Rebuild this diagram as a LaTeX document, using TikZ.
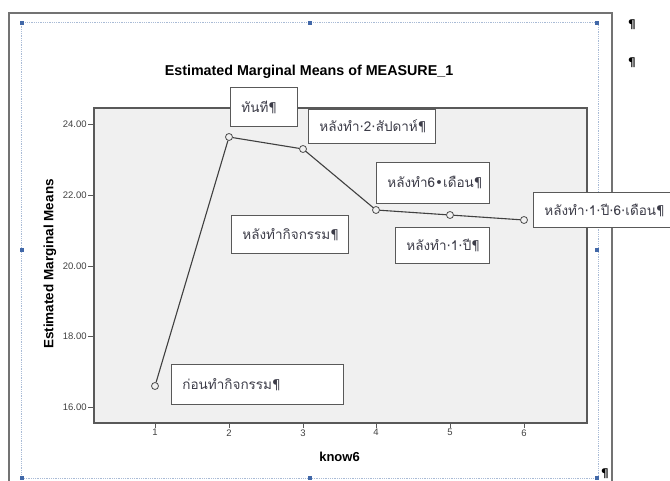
\documentclass[tikz,border=0pt]{standalone}
\usepackage{fontspec}
\setmainfont{Liberation Sans}
\newfontfamily\thaifont[Script=Thai]{Loma}
\newfontfamily\markfont{DejaVu Sans}
\usetikzlibrary{positioning, calc}
\definecolor{plotbg}{HTML}{F0F0F0}
\definecolor{selblue}{HTML}{A9BBD6}
\definecolor{handleblue}{HTML}{4168A8}
\definecolor{boxtext}{HTML}{3C3C48}
\newcommand{\pilc}{{\markfont ¶}}
\newcommand{\mdot}{{\markfont ·}}
\tikzset{
	textbox/.style={draw=black!65, fill=white, line width=0.9pt, inner xsep=11pt, inner ysep=0pt,
		anchor=north west, align=left, text=boxtext, font=\thaifont\fontsize{13.5}{15}\selectfont},
	handle/.style={fill=handleblue, inner sep=0pt, minimum size=4pt},
	datapt/.style={circle, draw=black!70, line width=0.8pt, inner sep=0pt, minimum size=7pt},
	tick label/.style={text=black!75, font=\fontsize{9.5}{11}\selectfont}
}
\begin{document}
\begin{tikzpicture}[x=1pt, y=-1pt]
	\useasboundingbox (0,0) rectangle (670,481);
	\draw[black!55, line width=1.2pt] (9,490) -- (9,13) -- (612,13) -- (612,490);
	\draw[selblue, densely dotted, line width=0.8pt] (21,22) rectangle (598,478);
	\foreach \hx/\hy in {22/23, 310/23, 597/23, 22/250, 597/250, 22/478, 310/478, 597/478}
		\node[handle] at (\hx,\hy) {};
	
	\node[font=\bfseries\fontsize{14.3}{16}\selectfont] (title) at (309,72) {Estimated Marginal Means of MEASURE\_1};
	
	\draw[fill=plotbg, draw=black!65, line width=1.3pt] (94,108) rectangle (587,423);
	\foreach \v/\ty in {24.00/124, 22.00/195, 20.00/266, 18.00/336, 16.00/407}
		\draw[black!65, line width=0.8pt] (94,\ty) -- ++(-6,0) node[tick label, anchor=east, inner sep=1pt] {\v};
	\foreach \k/\tx in {1/155, 2/229, 3/303, 4/376, 5/450, 6/524}
		\draw[black!65, line width=0.8pt] (\tx,423) -- ++(0,5) node[tick label, anchor=north, inner sep=1pt] {\k};
	\node[font=\bfseries\fontsize{13}{15}\selectfont] (xlabel) at (339.5,457) {know6};
	\node[font=\bfseries\fontsize{13.5}{15}\selectfont, rotate=90] (ylabel) at (50,264) {Estimated Marginal Means};
	
	\node[datapt] (p1) at (155,386) {};
	\node[datapt] (p2) at (229,137) {};
	\node[datapt] (p3) at (303,149) {};
	\node[datapt] (p4) at (376,210) {};
	\node[datapt] (p5) at (450,215) {};
	\node[datapt] (p6) at (524,220) {};
	\draw[black!75, line width=1.1pt] (p1) -- (p2) -- (p3) -- (p4) -- (p5) -- (p6);
	
	\node[textbox, text width=45pt, minimum height=39pt] (now) at (230,87) {ทันที\pilc};
	\node[textbox, text width=105pt, minimum height=34pt] (twoweeks) at (308,109) {หลังทำ\mdot 2\mdot สัปดาห์\pilc};
	\node[textbox, text width=91pt, minimum height=41pt] (sixmonths) at (376,162) {หลังทำ6{\markfont •}เดือน\pilc};
	\node[textbox, text width=125pt, minimum height=35pt] (oneyearsix) at (533,192) {หลังทำ\mdot 1\mdot ปี\mdot 6\mdot เดือน\pilc};
	\node[textbox, text width=95pt, minimum height=38pt] (after) at (231,215) {หลังทำกิจกรรม\pilc};
	\node[textbox, text width=72pt, minimum height=36pt] (oneyear) at (395,227) {หลังทำ\mdot 1\mdot ปี\pilc};
	\node[textbox, text width=150pt, minimum height=40pt] (before) at (171,364) {ก่อนทำกิจกรรม\pilc};
	
	\node[font=\markfont\bfseries\fontsize{12}{14}\selectfont] (pil1) at (632,25) {¶};
	\node[font=\markfont\bfseries\fontsize{12}{14}\selectfont] (pil2) at (632,63) {¶};
	\node[font=\markfont\bfseries\fontsize{12}{14}\selectfont] (pil3) at (605,474) {¶};
\end{tikzpicture}
\end{document}
